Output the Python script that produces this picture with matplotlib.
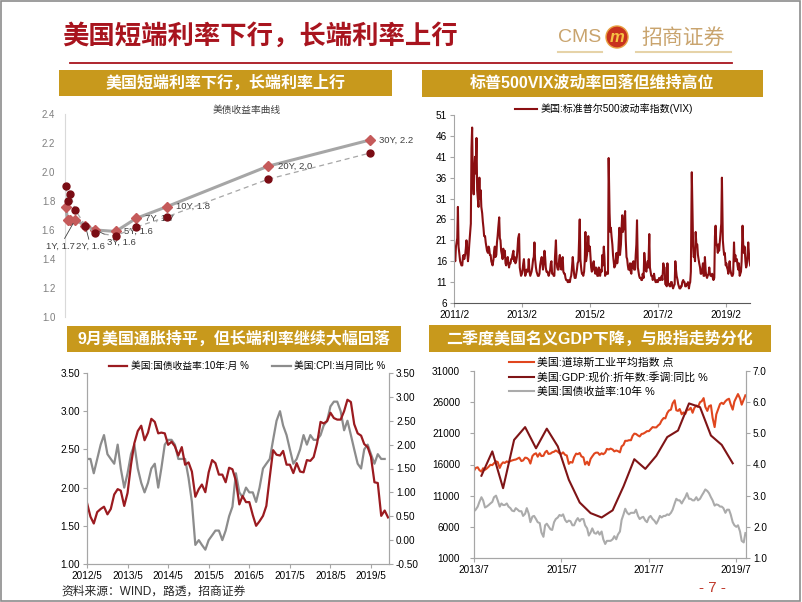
import matplotlib
matplotlib.use('Agg')
import matplotlib.pyplot as plt
from matplotlib.patches import Rectangle, Ellipse
from matplotlib.lines import Line2D
from matplotlib.ticker import MultipleLocator, FormatStrFormatter
import pandas as pd

# ---------------- data ----------------
# panel 1: US treasury yield curve
mat_years = [1 / 12, 3 / 12, 6 / 12, 1, 2, 3, 5, 7, 10, 20, 30]
mat_names = ['1M', '3M', '6M', '1Y', '2Y', '3Y', '5Y', '7Y', '10Y', '20Y', '30Y']
curve_now = [1.76, 1.67, 1.67, 1.67, 1.63, 1.60, 1.59, 1.68, 1.76, 2.04, 2.22]
curve_prev = [1.90, 1.80, 1.85, 1.74, 1.63, 1.58, 1.56, 1.62, 1.69, 1.95, 2.13]

# panel 2: VIX, four readings a month, 2011/2 - 2019/10
vix_2011 = [17.5, 16.5, 16.0, 19.5, 20.5, 21.5, 29.0, 19.5, 17.5, 16.0, 15.5, 15.0,
            15.0, 17.0, 17.5, 16.5, 17.5, 19.0, 21.0, 19.0, 16.0, 17.5, 20.0, 22.0,
            25.0, 43.0, 48.0, 36.0, 32.0, 38.0, 41.0, 37.0, 45.5, 33.0, 31.0, 29.0,
            36.0, 31.0, 33.0, 29.0, 27.5, 25.5, 24.0, 22.0]
vix_2012 = [22.0, 20.5, 19.5, 18.5, 18.0, 19.5, 19.0, 17.5, 17.5, 16.0, 15.5, 15.0,
            16.5, 18.5, 19.5, 17.0, 17.5, 20.5, 22.0, 24.0, 26.5, 21.5, 21.0, 18.5,
            17.5, 16.5, 19.0, 17.0, 18.5, 15.5, 15.0, 16.0, 17.0, 15.5, 14.5, 15.5,
            15.5, 16.5, 16.5, 17.5, 18.5, 16.0, 17.0, 15.5, 16.0, 17.0, 19.0, 21.5]
vix_2013 = [22.5, 14.5, 13.5, 12.5, 13.0, 14.0, 15.5, 16.5, 14.0, 12.5, 13.0, 14.0,
            13.5, 14.0, 16.5, 13.5, 12.5, 13.0, 13.5, 14.5, 16.5, 17.0, 20.5, 16.5,
            14.5, 13.5, 13.0, 12.5, 12.5, 13.0, 15.0, 16.0, 17.0, 15.5, 14.0, 15.5,
            18.5, 17.0, 14.5, 13.5, 13.5, 13.0, 12.5, 13.0, 14.0, 15.5, 16.0, 13.0]
vix_2014 = [13.0, 12.5, 12.5, 17.0, 21.0, 16.0, 14.5, 14.0, 14.0, 16.5, 17.5, 15.0,
            14.0, 16.5, 17.0, 13.5, 13.0, 13.0, 12.0, 11.5, 11.5, 11.0, 11.0, 11.5,
            11.0, 12.0, 12.5, 14.0, 17.0, 15.0, 13.0, 12.0, 12.0, 13.0, 14.0, 15.5,
            16.0, 21.0, 26.0, 16.5, 14.0, 13.0, 13.0, 12.5, 13.5, 16.0, 23.0, 16.0]
vix_2015 = [17.5, 19.0, 22.0, 18.5, 19.5, 17.0, 14.5, 13.5, 14.0, 15.5, 16.0, 14.0,
            13.0, 14.5, 14.0, 12.5, 12.5, 14.5, 13.5, 12.5, 14.0, 13.5, 17.5, 15.0,
            19.5, 17.0, 12.5, 13.0, 13.0, 13.5, 13.0, 40.7, 27.5, 23.0, 24.0, 22.0,
            20.0, 17.5, 16.0, 14.5, 15.0, 16.5, 18.0, 15.5, 17.0, 20.5, 24.0, 17.5]
vix_2016 = [20.0, 24.0, 27.0, 23.0, 24.0, 26.0, 28.0, 21.0, 17.0, 16.5, 15.0, 14.0,
            14.0, 15.5, 13.5, 13.0, 15.5, 14.5, 16.0, 14.0, 14.0, 17.5, 20.0, 25.8,
            14.5, 13.5, 12.5, 12.0, 12.0, 11.5, 11.5, 13.0, 12.0, 18.0, 16.0, 14.0,
            13.5, 15.0, 16.0, 14.5, 22.5, 14.5, 13.5, 12.5, 12.5, 11.5, 12.0, 13.0]
vix_2017 = [11.5, 11.0, 11.0, 11.5, 11.0, 11.5, 12.0, 11.5, 11.5, 12.0, 12.5, 11.5,
            15.5, 14.5, 14.5, 10.5, 10.5, 10.0, 15.5, 10.5, 10.5, 10.0, 10.0, 11.0,
            11.0, 10.0, 9.5, 10.0, 10.5, 16.0, 14.0, 12.5, 11.5, 10.5, 10.0, 9.5,
            9.5, 10.0, 10.0, 11.0, 11.5, 11.0, 11.0, 10.0, 10.0, 10.5, 10.5, 11.0]
vix_2018 = [9.5, 10.5, 11.0, 13.5, 37.3, 29.0, 20.0, 17.0, 17.5, 16.0, 23.0, 20.0,
            20.0, 17.5, 16.5, 15.5, 14.5, 13.0, 13.0, 13.5, 15.5, 12.5, 12.5, 17.0,
            13.5, 12.5, 12.0, 12.5, 13.0, 14.5, 13.0, 12.5, 12.5, 13.0, 12.0, 11.5,
            12.0, 22.0, 24.5, 20.5, 19.5, 18.0, 20.0, 18.5, 21.0, 23.0, 25.0, 36.0]
vix_2019 = [21.0, 19.0, 17.5, 18.0, 15.0, 15.5, 14.5, 14.0, 13.0, 14.5, 16.0, 14.0,
            13.0, 12.5, 12.5, 13.0, 20.5, 16.0, 17.5, 16.0, 16.5, 15.0, 14.0, 15.5,
            12.5, 13.0, 13.5, 16.0, 24.5, 20.0, 18.0, 19.5, 16.0, 14.5, 15.0, 17.0,
            20.5, 18.0, 16.0, 15.0]
vix_values = (vix_2011 + vix_2012 + vix_2013 + vix_2014 + vix_2015 + vix_2016
              + vix_2017 + vix_2018 + vix_2019)
vix_months = pd.date_range('2011-02-01', '2019-10-01', freq='MS')
vix_dates = [m + pd.Timedelta(days=d) for m in vix_months for d in (0, 7, 14, 21)]
vix_ticks = ['2011/2', '2013/2', '2015/2', '2017/2', '2019/2']

# panel 3: monthly 10Y yield and CPI yoy
y10_monthly = [1.80, 1.62, 1.53, 1.68, 1.72, 1.75, 1.65, 1.72,
               1.91, 1.98, 1.96, 1.76, 1.93, 2.30, 2.58, 2.74, 2.81, 2.62, 2.72, 2.90,
               2.86, 2.71, 2.72, 2.71, 2.56, 2.60, 2.54, 2.42, 2.53, 2.30, 2.33, 2.21,
               1.88, 1.98, 2.04, 1.94, 2.20, 2.36, 2.32, 2.17, 2.17, 2.07, 2.26, 2.24,
               2.09, 1.78, 1.89, 1.81, 1.81, 1.64, 1.50, 1.56, 1.63, 1.76, 2.14, 2.49,
               2.43, 2.42, 2.48, 2.30, 2.30, 2.19, 2.32, 2.21, 2.20, 2.36, 2.35, 2.40,
               2.58, 2.86, 2.84, 2.87, 2.98, 2.91, 2.89, 2.89, 3.00, 3.15, 3.12, 2.83,
               2.71, 2.68, 2.57, 2.53, 2.40, 2.07, 2.06, 1.63, 1.70, 1.61]
cpi_yoy = [1.7, 1.7, 1.4, 1.7, 2.0, 2.2, 1.8, 1.7,
           1.6, 2.0, 1.5, 1.1, 1.4, 1.8, 2.0, 1.5, 1.2, 1.0, 1.2, 1.5,
           1.6, 1.1, 1.5, 2.0, 2.1, 2.1, 2.0, 1.7, 1.7, 1.7, 1.3, 0.8,
           -0.1, 0.0, -0.1, -0.2, 0.0, 0.1, 0.2, 0.2, 0.0, 0.2, 0.5, 0.7,
           1.4, 1.0, 0.9, 1.1, 1.0, 1.0, 0.8, 1.1, 1.5, 1.6, 1.7, 2.1,
           2.5, 2.7, 2.4, 2.2, 1.9, 1.6, 1.7, 1.9, 2.2, 2.0, 2.2, 2.1,
           2.1, 2.2, 2.4, 2.5, 2.8, 2.9, 2.9, 2.7, 2.3, 2.5, 2.2, 1.9,
           1.6, 1.5, 1.9, 2.0, 1.8, 1.6, 1.8, 1.7, 1.7]
month_dates = pd.date_range('2012-05-01', periods=len(y10_monthly), freq='MS')
p3_ticks = ['2012/5', '2013/5', '2014/5', '2015/5', '2016/5', '2017/5', '2018/5', '2019/5']

# panel 4: Dow (semi-monthly), nominal GDP yoy (quarterly), 10Y yield (semi-monthly)
dow = [15000, 15450, 15550, 15100, 14850, 15400, 15150, 15350, 15650, 15950, 15900, 16200,
       16500, 16400, 15450, 16050, 16350, 16250, 16500, 16350, 16550, 16650, 16750, 16800,
       16950, 17100, 16550, 16650, 17100, 17050, 16800, 16150, 17350, 17650, 17800, 17250,
       17800, 17350, 17400, 17950, 18200, 17700, 17750, 17950, 18050, 18250, 18050, 17800,
       17700, 17950, 17550, 17450, 16100, 16400, 16300, 17150, 17750, 17650, 17850, 17300,
       17150, 16000, 16450, 15900, 16900, 17300, 17750, 17900, 17900, 17550, 17800, 17650,
       17900, 18500, 18400, 18550, 18400, 18100, 18250, 18150, 17950, 18900, 19150, 19800,
       19800, 19900, 19900, 20600, 20950, 20900, 20650, 20500, 20900, 20950, 21150, 21350,
       21350, 21650, 22000, 21950, 21950, 22250, 22500, 23050, 23450, 23400, 24250, 24650,
       24800, 25800, 26300, 24700, 24600, 24900, 24050, 24350, 24100, 24750, 24800, 25100,
       24300, 25050, 25450, 25250, 26000, 26150, 26650, 25250, 24600, 25350, 25500, 23500,
       22000, 24050, 24950, 25700, 25900, 25700, 26150, 26400, 26550, 25650, 24800, 26100,
       26750, 27300, 26600, 25600, 26400, 27100]
y10_daily = [2.50, 2.55, 2.65, 2.80, 2.95, 2.85, 2.62, 2.65, 2.70, 2.75, 2.80, 2.95,
             3.00, 2.85, 2.65, 2.75, 2.70, 2.70, 2.75, 2.65, 2.60, 2.52, 2.50, 2.60,
             2.55, 2.50, 2.50, 2.35, 2.42, 2.60, 2.42, 2.15, 2.33, 2.35, 2.25, 2.15,
             2.12, 1.82, 1.68, 2.05, 2.10, 2.02, 1.92, 1.90, 2.15, 2.25, 2.30, 2.38,
             2.35, 2.40, 2.22, 2.15, 2.20, 2.18, 2.05, 2.05, 2.20, 2.28, 2.18, 2.25,
             2.25, 2.05, 1.95, 1.72, 1.82, 1.95, 1.80, 1.78, 1.85, 1.75, 1.85, 1.60,
             1.45, 1.55, 1.55, 1.55, 1.60, 1.70, 1.60, 1.75, 1.85, 2.22, 2.40, 2.58,
             2.45, 2.40, 2.45, 2.45, 2.45, 2.55, 2.35, 2.25, 2.30, 2.32, 2.20, 2.15,
             2.30, 2.35, 2.25, 2.20, 2.10, 2.20, 2.35, 2.30, 2.35, 2.35, 2.40, 2.38,
             2.45, 2.55, 2.75, 2.90, 2.85, 2.85, 2.75, 2.85, 2.95, 3.08, 2.90, 2.90,
             2.85, 2.85, 2.95, 2.85, 2.90, 3.00, 3.10, 3.20, 3.15, 3.08, 2.95, 2.85,
             2.68, 2.72, 2.70, 2.65, 2.65, 2.60, 2.45, 2.55, 2.55, 2.40, 2.15, 2.05,
             2.00, 2.05, 1.85, 1.55, 1.50, 1.80]
semi_dates = pd.date_range('2013-07-01', periods=len(dow), freq='SMS')
gdp_yoy = [3.64, 4.42, 3.24, 4.79, 5.20, 4.52, 5.15, 4.58, 3.51, 2.78, 2.44, 2.30,
           2.53, 3.30, 4.17, 3.86, 4.28, 4.88, 5.09, 5.96, 5.84, 4.93, 4.63, 4.04]
gdp_dates = pd.date_range('2013-09-01', periods=len(gdp_yoy), freq='3MS')
p4_ticks = ['2013/7', '2015/7', '2017/7', '2019/7']

# ---------------- layout ----------------
W, H = 802, 602
GOLD = '#C8991C'
DARK = '#A8141E'
plt.rcParams['font.family'] = ['Liberation Sans', 'Noto Sans CJK SC']
plt.rcParams['axes.unicode_minus'] = False

fig = plt.figure(figsize=(W / 100, H / 100), dpi=100)


def box(l, t, r, b):
    return [l / W, 1 - b / H, (r - l) / W, (b - t) / H]


def fx(x):
    return x / W


def fy(y):
    return 1 - y / H


def header(l, t, r, b, text):
    fig.add_artist(Rectangle((fx(l), fy(b)), (r - l) / W, (b - t) / H,
                             transform=fig.transFigure, facecolor=GOLD, edgecolor='none'))
    fig.text(fx((l + r) / 2), fy((t + b) / 2), text, color='white', fontsize=11.5,
             fontweight='bold', ha='center', va='center')


def date_ticks(ax, labels):
    ax.set_xticks(pd.to_datetime([s.replace('/', '-') + '-01' for s in labels]))
    ax.set_xticklabels(labels)


# frame, title, logo
fig.add_artist(Rectangle((0.001, 0.001), 0.997, 0.997, transform=fig.transFigure,
                         fill=False, edgecolor='#8C8C8C', lw=1.2))
fig.text(fx(62), fy(36), '美国短端利率下行，长端利率上行', fontsize=19,
         fontweight='bold', color=DARK, ha='left', va='center')
fig.add_artist(Line2D([fx(70), fx(732)], [fy(63), fy(63)], color=DARK, lw=1.3))
fig.text(fx(580), fy(38), 'CMS', fontsize=14, color='#C9A46E', ha='center', va='center')
fig.add_artist(Ellipse((fx(617), fy(37)), 22 / W, 22 / H, transform=fig.transFigure,
                       facecolor='#C8321E', edgecolor='#E8A040', lw=1))
fig.text(fx(617), fy(38), 'm', fontsize=12, fontstyle='italic', fontweight='bold',
         color='#F6C343', ha='center', va='center')
fig.text(fx(683), fy(38), '招商证券', fontsize=15, color='#C9A46E', ha='center', va='center')
for x0, x1 in [(558, 602), (636, 731)]:
    fig.add_artist(Line2D([fx(x0), fx(x1)], [fy(52), fy(52)], color='#E6D3A8', lw=1.5))

header(59, 70, 392, 96, '美国短端利率下行，长端利率上行')
header(422, 70, 763, 97, '标普500VIX波动率回落但维持高位')
header(67, 326, 401, 352, '9月美国通胀持平，但长端利率继续大幅回落')
header(429, 325, 771, 352, '二季度美国名义GDP下降，与股指走势分化')

TICK = dict(labelsize=7.2, length=3, color='#A6A6A6', pad=2)

# ---------- panel 1: yield curve ----------
ax1 = fig.add_axes(box(65, 114, 400, 317))
ax1.plot(mat_years, curve_now, color='#A6A6A6', lw=2.2, marker='D', ms=5.5,
         mfc='#C55A5A', mec='#C55A5A', zorder=3, clip_on=False)
ax1.plot(mat_years, curve_prev, color='#A6A6A6', lw=0.9, ls=(0, (4, 3)), marker='o',
         ms=5, mfc='#7A0C14', mec='#7A0C14', zorder=4, clip_on=False)
ax1.set_xlim(0, 33)
ax1.set_ylim(1.0, 2.4)
ax1.yaxis.set_major_locator(MultipleLocator(0.2))
ax1.yaxis.set_major_formatter(FormatStrFormatter('%.1f'))
ax1.set_xticks([])
for s in ['top', 'right', 'bottom']:
    ax1.spines[s].set_visible(False)
ax1.spines['left'].set_color('#D9D9D9')
ax1.tick_params(axis='y', length=0, labelsize=7, labelcolor='#7F7F7F', pad=7)
label_offsets = {'1Y': (-21, -18.7), '2Y': (-6.5, -15.1), '3Y': (8, -8.6),
                 '5Y': (6, 0), '7Y': (6.5, 0), '10Y': (6.5, 0), '20Y': (7, 0), '30Y': (6.5, 0)}
for name, x, y in zip(mat_names, mat_years, curve_now):
    if name not in label_offsets:
        continue
    arrow = None
    if name in ('1Y', '2Y', '3Y'):
        arrow = dict(arrowstyle='-', color='#404040', lw=0.6, shrinkA=0, shrinkB=3)
    ax1.annotate(f'{name}, {y:.1f}', xy=(x, y), xytext=label_offsets[name],
                 textcoords='offset points', ha='left', va='center', fontsize=6.8,
                 color='#404040', arrowprops=arrow, annotation_clip=False)
fig.text(fx(247), fy(110), '美债收益率曲线', fontsize=7, color='#404040',
         ha='center', va='center')

# ---------- panel 2: VIX ----------
ax2 = fig.add_axes(box(454, 115, 750, 303))
ax2.plot(vix_dates, vix_values, color='#8B0F12', lw=1.5,
         label='美国:标准普尔500波动率指数(VIX)')
ax2.set_ylim(6, 51)
ax2.set_yticks(range(6, 52, 5))
ax2.set_xlim(pd.Timestamp('2011-02-01'), pd.Timestamp('2019-10-20'))
date_ticks(ax2, vix_ticks)
for s in ['top', 'right']:
    ax2.spines[s].set_visible(False)
ax2.spines['left'].set_color('#A6A6A6')
ax2.spines['bottom'].set_color('#595959')
ax2.tick_params(**TICK)
ax2.legend(loc='center left', bbox_to_anchor=((515 - 454) / 296, 1 + (115 - 109) / 188),
           frameon=False, fontsize=7.2, borderpad=0, borderaxespad=0,
           handlelength=2.2, handletextpad=0.35)

# ---------- panel 3: 10Y vs CPI ----------
ax3 = fig.add_axes(box(87, 373, 389, 564))
ax3r = ax3.twinx()
l1, = ax3.plot(month_dates, y10_monthly, color='#9B1B20', lw=1.6,
               label='美国:国债收益率:10年:月 %')
l2, = ax3r.plot(month_dates[:len(cpi_yoy)], cpi_yoy, color='#8C8C8C', lw=1.6,
                label='美国:CPI:当月同比 %')
ax3.set_zorder(ax3r.get_zorder() + 1)
ax3.patch.set_visible(False)
ax3.set_ylim(1.0, 3.5)
ax3r.set_ylim(-0.5, 3.5)
for a in (ax3, ax3r):
    a.yaxis.set_major_locator(MultipleLocator(0.5))
    a.yaxis.set_major_formatter(FormatStrFormatter('%.2f'))
    a.spines['top'].set_visible(False)
    for s in ['left', 'right', 'bottom']:
        a.spines[s].set_color('#A6A6A6')
    a.tick_params(**TICK)
ax3.set_xlim(pd.Timestamp('2012-05-01'), pd.Timestamp('2019-10-10'))
date_ticks(ax3, p3_ticks)
ax3.legend(handles=[l1, l2], loc='center left',
           bbox_to_anchor=((109 - 87) / 302, 1 + (373 - 366) / 191), ncol=2,
           frameon=False, fontsize=7, borderpad=0, borderaxespad=0,
           handlelength=1.9, handletextpad=0.35, columnspacing=2.4)

# ---------- panel 4: Dow vs GDP vs 10Y ----------
ax4 = fig.add_axes(box(474, 371, 746, 558))
ax4r = ax4.twinx()
h1, = ax4.plot(semi_dates, dow, color='#E0461E', lw=1.5, label='美国:道琼斯工业平均指数 点')
h2, = ax4r.plot(gdp_dates, gdp_yoy, color='#7F1416', lw=1.5,
                label='美国:GDP:现价:折年数:季调:同比 %')
h3, = ax4r.plot(semi_dates, y10_daily, color='#ABABAB', lw=1.5, label='美国:国债收益率:10年 %')
ax4.set_ylim(1000, 31000)
ax4.set_yticks(range(1000, 31001, 5000))
ax4r.set_ylim(1.0, 7.0)
ax4r.yaxis.set_major_locator(MultipleLocator(1.0))
ax4r.yaxis.set_major_formatter(FormatStrFormatter('%.1f'))
for a in (ax4, ax4r):
    a.spines['top'].set_visible(False)
    for s in ['left', 'right', 'bottom']:
        a.spines[s].set_color('#A6A6A6')
    a.tick_params(**TICK)
ax4.tick_params(axis='y', pad=7)
ax4.set_xlim(pd.Timestamp('2013-07-01'), pd.Timestamp('2019-09-20'))
date_ticks(ax4, p4_ticks)
ax4.legend(handles=[h1, h2, h3], loc='center left',
           bbox_to_anchor=((509 - 474) / 272, (558 - 377) / 187),
           frameon=False, fontsize=7.8, borderpad=0, borderaxespad=0,
           handlelength=2.3, handletextpad=0.3, labelspacing=0.35)

# footer
fig.text(fx(61), fy(592), '资料来源：WIND，路透，招商证券', fontsize=8.5,
         color='#262626', ha='left', va='center')
fig.text(fx(712), fy(588), '- 7 -', fontsize=11, color='#C0392B', ha='center', va='center')

fig.savefig('out.png', dpi=100)
